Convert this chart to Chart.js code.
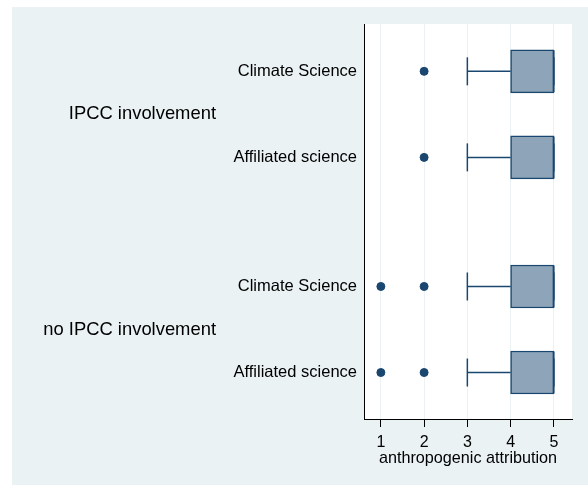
<!DOCTYPE html>
<html>
<head>
<meta charset="utf-8">
<script src="https://cdn.jsdelivr.net/npm/chart.js@4"></script>
<style>
body { margin: 0; background: #fff; }
#wrap { position: absolute; left: 12px; top: 7px; width: 576px; height: 478px; background: #eaf2f3; }
</style>
</head>
<body>
<div id="wrap"><canvas id="box"></canvas></div>
<script>
// グループとカテゴリ
const groups = ['IPCC involvement', 'no IPCC involvement'];
const fields = ['Climate Science', 'Affiliated science'];
// 箱ひげの値（グループ×カテゴリ順）
const q1 = [4, 4, 4, 4];
const median = [5, 5, 5, 5];
const q3 = [5, 5, 5, 5];
const whiskerLow = [3, 3, 3, 3];
const whiskerHigh = [5, 5, 5, 5];
const outliers = [[2], [2], [1, 2], [1, 2]];
// x軸の目盛
const xTicks = [1, 2, 3, 4, 5];

const navy = '#1a476f';

// 行ラベルと位置（グループ間は少し空ける）
let rowLabels = []
let rowPos = []
groups.forEach(function(g, gi) {
    fields.forEach(function(f, fi) {
        rowLabels.push(f)
        rowPos.push(gi * fields.length + fi + 1 + gi * 0.5)
    })
})
// グループラベルの位置は各グループの中央
let groupPos = groups.map(function(g, gi) {
    let p = rowPos.slice(gi * fields.length, (gi + 1) * fields.length)
    return (p[0] + p[p.length - 1]) / 2
})

// データセット作成
let datasets = []
// 箱
datasets.push({
    type: 'bar',
    indexAxis: 'y',
    data: rowPos.map(function(y, i) { return { x: [q1[i], q3[i]], y: y } }),
    backgroundColor: '#8ea4b9',
    borderColor: navy,
    borderWidth: 1.5,
    borderSkipped: false,
    barThickness: 43,
    order: 2
})
// ひげ（線）
rowPos.forEach(function(y, i) {
    datasets.push({
        type: 'line',
        data: [{ x: whiskerLow[i], y: y }, { x: q1[i], y: y }, { x: NaN, y: y }, { x: q3[i], y: y }, { x: whiskerHigh[i], y: y }],
        borderColor: navy,
        borderWidth: 1.5,
        pointRadius: 0,
        spanGaps: false,
        order: 1
    })
})
// ひげの端
datasets.push({
    type: 'scatter',
    data: rowPos.flatMap(function(y, i) { return [{ x: whiskerLow[i], y: y }, { x: whiskerHigh[i], y: y }] }),
    pointStyle: 'line',
    rotation: 90,
    pointRadius: 14,
    borderColor: navy,
    borderWidth: 1.5,
    order: 1
})
// 中央値
datasets.push({
    type: 'scatter',
    data: rowPos.map(function(y, i) { return { x: median[i], y: y } }),
    pointStyle: 'line',
    rotation: 90,
    pointRadius: 21,
    borderColor: navy,
    borderWidth: 1.5,
    order: 0
})
// 外れ値
datasets.push({
    type: 'scatter',
    data: rowPos.flatMap(function(y, i) { return outliers[i].map(function(v) { return { x: v, y: y } }) }),
    pointStyle: 'circle',
    pointRadius: 4,
    backgroundColor: navy,
    borderColor: navy,
    borderWidth: 1,
    order: 0
})

// プロット領域の背景を白に
const plotBg = {
    id: 'plotBg',
    beforeDraw(chart) {
        const a = chart.chartArea
        const ctx = chart.ctx
        ctx.save()
        ctx.fillStyle = '#fff'
        ctx.fillRect(a.left, a.top, a.width, a.height)
        ctx.restore()
    }
}

// ラベルのはみ出し用余白を消す
function noPad(s) {
    s.paddingTop = 0
    s.paddingBottom = 0
    s.paddingLeft = 0
    s.paddingRight = 0
}

Chart.defaults.font.family = "'Liberation Sans', Arial, sans-serif"
Chart.defaults.color = '#000'

let chart = new Chart(document.getElementById('box'), {
    type: 'scatter',
    data: { datasets: datasets },
    plugins: [plotBg],
    options: {
        responsive: true,
        maintainAspectRatio: false,
        animation: false,
        events: [],
        layout: { autoPadding: false, padding: { top: 17, right: 16, left: 0, bottom: 0 } },
        plugins: { legend: { display: false }, tooltip: { enabled: false } },
        scales: {
            x: {
                type: 'linear',
                offset: false,
                min: 0.61,
                max: 5.42,
                afterBuildTicks: function(s) { s.ticks = xTicks.map(function(v) { return { value: v } }) },
                grid: { offset: false, color: '#eaf2f3', tickColor: '#000', tickLength: 8 },
                border: { color: '#000', width: 1 },
                ticks: { color: '#000', font: { size: 16 }, padding: 6, maxRotation: 0, autoSkip: false },
                title: { display: true, text: 'anthropogenic attribution', color: '#000', font: { size: 16.2 }, padding: { top: 0, bottom: 17 } },
                afterFit: function(s) { s.height = 66; noPad(s) }
            },
            y: {
                type: 'linear',
                offset: false,
                position: 'left',
                weight: 0,
                reverse: true,
                min: 0.45,
                max: 5.04,
                afterBuildTicks: function(s) { s.ticks = rowPos.map(function(v) { return { value: v } }) },
                grid: { offset: false, display: false, drawTicks: false },
                border: { color: '#000', width: 1 },
                ticks: { color: '#000', font: { size: 16.5 }, padding: 7, autoSkip: false, callback: function(v, i) { return rowLabels[i] } },
                afterFit: function(s) { s.width = 147; noPad(s) }
            },
            yg: {
                type: 'linear',
                offset: false,
                position: 'left',
                weight: 1,
                reverse: true,
                min: 0.45,
                max: 5.04,
                afterBuildTicks: function(s) { s.ticks = groupPos.map(function(v) { return { value: v } }) },
                grid: { offset: false, display: false, drawTicks: false },
                border: { display: false },
                ticks: { color: '#000', font: { size: 18.4 }, padding: 1, autoSkip: false, callback: function(v, i) { return groups[i] } },
                afterFit: function(s) { s.width = 205; noPad(s) }
            }
        }
    }
})
</script>
</body>
</html>
